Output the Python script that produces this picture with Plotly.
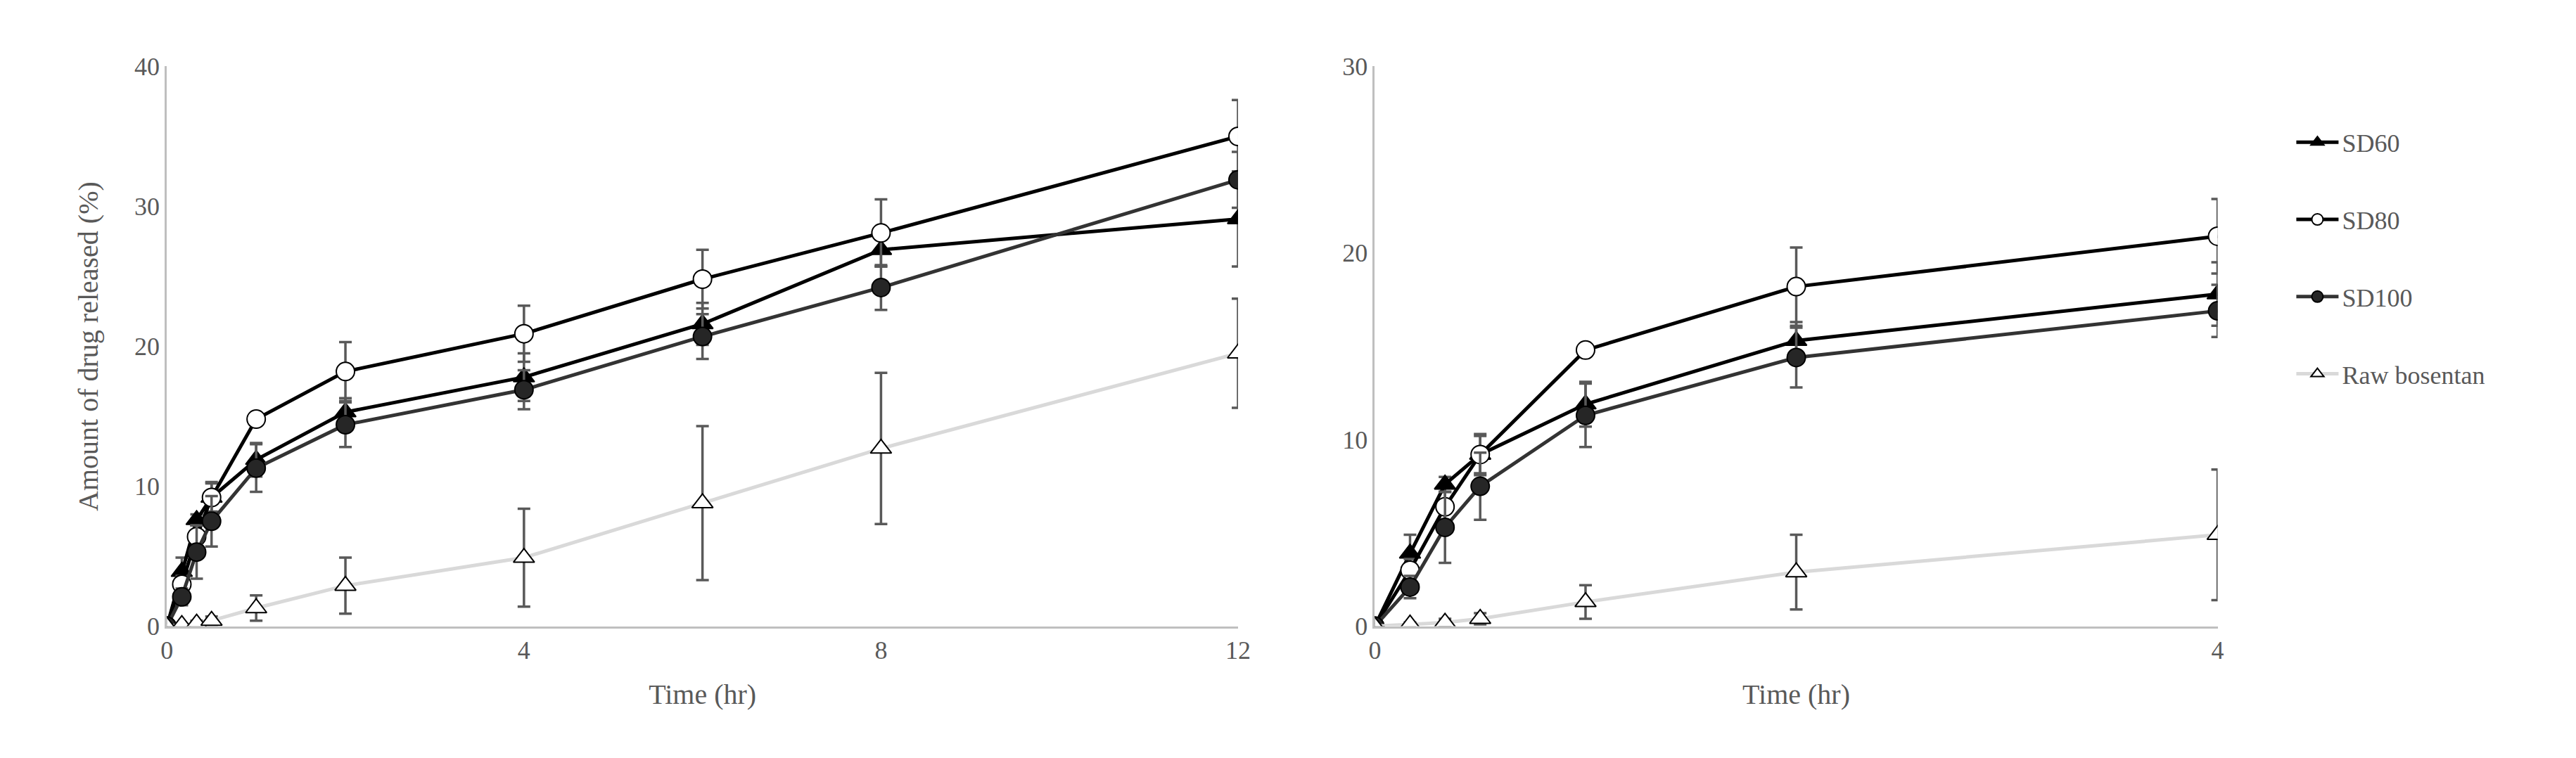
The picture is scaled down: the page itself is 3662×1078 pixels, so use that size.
import plotly.graph_objects as go

time = [0, 0.167, 0.333, 0.5, 1, 2, 4, 6, 8, 12]
sd60 = [0, 3.9, 7.6, 9.2, 11.9, 15.3, 17.8, 21.6, 26.9, 29.1]
sd60_err = [0, 1.0, 0.4, 1.0, 1.2, 1.0, 1.7, 1.5, 1.2, 3.4]
sd80 = [0, 3.0, 6.4, 9.2, 14.8, 18.2, 20.9, 24.8, 28.1, 35.0]
sd80_err = [0, 0.6, 0.8, 1.1, 0.3, 2.1, 2.0, 2.1, 2.4, 2.6]
sd100 = [0, 2.1, 5.3, 7.5, 11.3, 14.4, 16.9, 20.7, 24.2, 31.9]
sd100_err = [0, 0.6, 1.9, 1.8, 1.7, 1.6, 1.4, 1.6, 1.6, 2.0]
raw = [0, 0.1, 0.2, 0.4, 1.3, 2.9, 4.9, 8.8, 12.7, 19.5]
raw_err = [0, 0.1, 0.2, 0.3, 0.9, 2.0, 3.5, 5.5, 5.4, 3.9]

names = ["SD60", "SD80", "SD100", "Raw bosentan"]
values = [sd60, sd80, sd100, raw]
errors = [sd60_err, sd80_err, sd100_err, raw_err]
symbols = ["triangle-up", "circle", "circle", "triangle-up"]
fills = ["black", "white", "#262626", "white"]
lines = ["black", "black", "#333333", "#d9d9d9"]

FONT = "Liberation Serif"
GRAY = "#595959"
fig = go.Figure()
for panel, (xa, ya, tmax) in enumerate([("x", "y", 12), ("x2", "y2", 4)]):
    for i, name in enumerate(names):
        idx = [k for k, t in enumerate(time) if t <= tmax]
        fig.add_trace(go.Scatter(
            x=[time[k] for k in idx], y=[values[i][k] for k in idx],
            xaxis=xa, yaxis=ya, name=name, legendgroup=name,
            showlegend=(panel == 1), mode="lines+markers",
            line=dict(color=lines[i], width=5),
            marker=dict(symbol=symbols[i], size=26, color=fills[i],
                        line=dict(color="black", width=2)),
            error_y=dict(type="data", array=[errors[i][k] for k in idx],
                         color=GRAY, thickness=3.5, width=9),
        ))

axis_common = dict(showgrid=False, zeroline=False, showline=True,
                   linecolor="#bfbfbf", linewidth=3, ticks="",
                   tickfont=dict(family=FONT, size=36, color=GRAY))
fig.update_layout(
    width=3662, height=1078, paper_bgcolor="white", plot_bgcolor="white",
    margin=dict(l=0, r=0, t=0, b=0),
    font=dict(family=FONT, color=GRAY),
    xaxis=dict(domain=[0.0606, 0.4795], range=[0, 12], tickvals=[0, 4, 8, 12],
               title=dict(text="Time (hr)", font=dict(size=40, color=GRAY), standoff=30),
               anchor="y", **axis_common),
    yaxis=dict(domain=[0.168, 0.935], range=[0, 40], tickvals=[0, 10, 20, 30, 40],
               title=dict(text="Amount of drug released (%)", font=dict(size=40, color=GRAY), standoff=40),
               anchor="x", **axis_common),
    xaxis2=dict(domain=[0.533, 0.8626], range=[0, 4], tickvals=[0, 4],
                title=dict(text="Time (hr)", font=dict(size=40, color=GRAY), standoff=30),
                anchor="y2", **axis_common),
    yaxis2=dict(domain=[0.168, 0.935], range=[0, 30], tickvals=[0, 10, 20, 30],
                anchor="x2", **axis_common),
    legend=dict(x=0.892, y=0.86, xanchor="left", yanchor="top",
                font=dict(family=FONT, size=36, color=GRAY),
                tracegroupgap=60, itemwidth=60, bgcolor="rgba(0,0,0,0)"),
)
for ax in ["xaxis", "xaxis2"]:
    fig.layout[ax].update(mirror=False)
fig.write_html("out.html")
